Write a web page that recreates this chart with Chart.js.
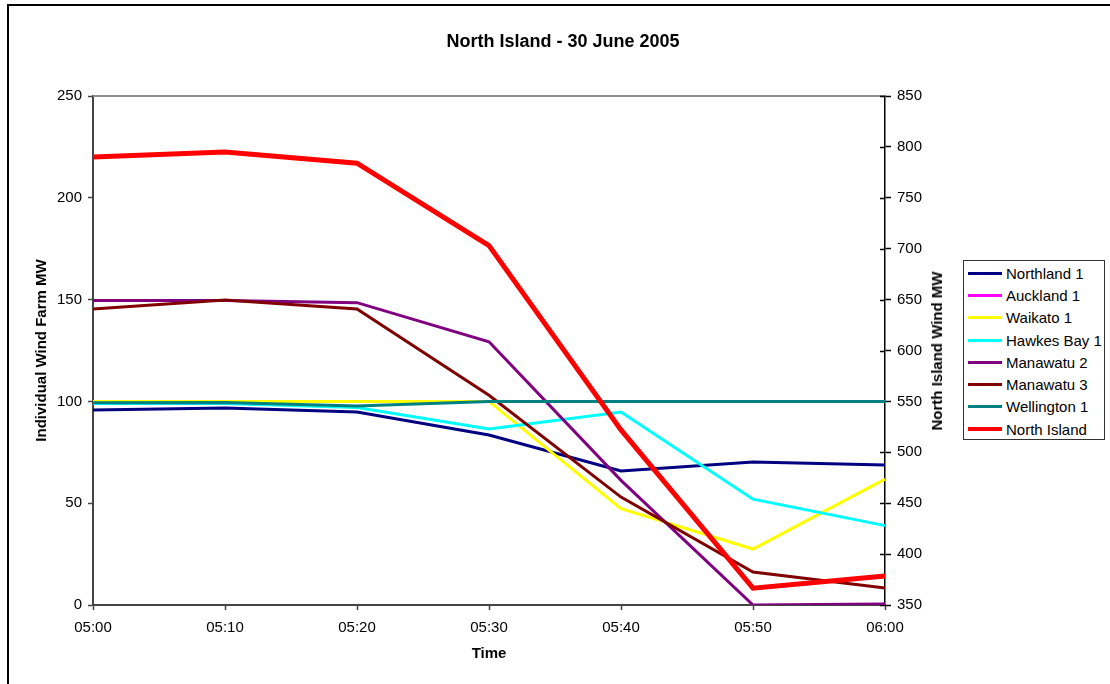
<!DOCTYPE html>
<html>
<head>
<meta charset="utf-8">
<script src="https://cdn.jsdelivr.net/npm/chart.js@4/dist/chart.umd.min.js"></script>
<style>
  html, body { margin: 0; padding: 0; background: #fff; }
  body { width: 1110px; height: 684px; position: relative; overflow: hidden;
         font-family: "Liberation Sans", Arial, sans-serif; }
  #frame-top { position: absolute; left: 7px; top: 4px; width: 1103px; height: 2px; background: #000; }
  #frame-left { position: absolute; left: 7px; top: 4px; width: 2px; height: 680px; background: #000; }
  #wrap { position: absolute; left: 0; top: 0; width: 1110px; height: 684px; }
  #title { position: absolute; left: 363px; top: 30px; width: 400px; text-align: center;
           font-weight: bold; font-size: 18px; line-height: 22px; color: #000; }
  #rtitle { position: absolute; left: 937px; top: 350.5px; transform: translate(-50%, -50%) rotate(-90deg);
            white-space: nowrap; font-weight: bold; font-size: 15px; line-height: 18px; color: #000; }
  #legend { position: absolute; left: 963px; top: 260px; width: 142px; height: 180px;
            border: 1px solid #333; background: #fff; box-sizing: border-box; padding-top: 1px; }
  .item { height: 22.3px; display: flex; align-items: center; font-size: 15px; color: #000; white-space: nowrap; }
  .swatch { width: 34px; margin-left: 4px; margin-right: 4px; }
</style>
</head>
<body>
<div id="wrap"><canvas id="chart" width="1110" height="684"></canvas></div>
<div id="frame-top"></div>
<div id="frame-left"></div>
<div id="title">North Island - 30 June 2005</div>
<div id="rtitle">North Island Wind MW</div>
<div id="legend"></div>
<script>
// Half-hour of trading periods, 10-minute steps
const times = ['05:00', '05:10', '05:20', '05:30', '05:40', '05:50', '06:00'];

// Individual wind farm output (MW), left axis
const northland1  = [95.8, 96.8, 94.8, 83.5, 65.8, 70.2, 68.8];
const auckland1   = [100, 100, 100, 100, 100, 100, 100];
const waikato1    = [100, 100, 100, 100, 47.3, 27.5, 61.8];
const hawkesBay1  = [99, 99, 97, 86.4, 94.8, 52, 39];
const manawatu2   = [149.5, 149.6, 148.5, 129.3, 61.2, 0, 0.5];
const manawatu3   = [145.4, 149.8, 145.4, 103, 53, 16.2, 8.3];
const wellington1 = [99.3, 99.4, 97.7, 100, 100, 100, 100];

// North Island total wind output (MW), right axis
const northIsland = [790, 795, 784, 703, 522, 366.5, 378.5];

const seriesNames  = ['Northland 1', 'Auckland 1', 'Waikato 1', 'Hawkes Bay 1', 'Manawatu 2', 'Manawatu 3', 'Wellington 1', 'North Island'];
const seriesColors = ['#000080', '#FF00FF', '#FFFF00', '#00FFFF', '#800080', '#800000', '#008080', '#FF0000'];
const seriesValues = [northland1, auckland1, waikato1, hawkesBay1, manawatu2, manawatu3, wellington1, northIsland];

const leftTicks  = [0, 50, 100, 150, 200, 250];
const rightTicks = [350, 400, 450, 500, 550, 600, 650, 700, 750, 800, 850];

const FONT = '"Liberation Sans", Arial, sans-serif';

const datasets = seriesNames.map((name, i) => {
  const total = i === seriesNames.length - 1;
  return {
    label: name,
    data: seriesValues[i],
    borderColor: seriesColors[i],
    backgroundColor: seriesColors[i],
    borderWidth: total ? 5 : 3,
    pointRadius: 0,
    pointHoverRadius: 0,
    tension: 0,
    fill: false,
    yAxisID: total ? 'y1' : 'y',
    order: seriesNames.length - i   // later series drawn on top
  };
});

// Legend box on the right
const legendEl = document.getElementById('legend');
seriesNames.forEach((name, i) => {
  const row = document.createElement('div');
  row.className = 'item';
  const sw = document.createElement('div');
  sw.className = 'swatch';
  const h = i === seriesNames.length - 1 ? 4 : 3;
  sw.style.height = h + 'px';
  sw.style.background = seriesColors[i];
  const tx = document.createElement('span');
  tx.textContent = name;
  row.appendChild(sw);
  row.appendChild(tx);
  legendEl.appendChild(row);
});

// Plot frame top edge and right-axis ticks that cross the axis line
const framePlugin = {
  id: 'frame',
  beforeDatasetsDraw(chart) {
    const { ctx, chartArea } = chart;
    ctx.save();
    ctx.strokeStyle = '#8c8c8c';
    ctx.lineWidth = 2;
    ctx.beginPath();
    ctx.moveTo(chartArea.left, chartArea.top);
    ctx.lineTo(chartArea.right, chartArea.top);
    ctx.stroke();
    const y1 = chart.scales.y1;
    ctx.strokeStyle = '#000';
    ctx.lineWidth = 1.5;
    y1.ticks.forEach(t => {
      const py = Math.round(y1.getPixelForValue(t.value)) + 0.5;
      ctx.beginPath();
      ctx.moveTo(chartArea.right - 5, py);
      ctx.lineTo(chartArea.right, py);
      ctx.stroke();
    });
    ctx.restore();
  }
};

new Chart(document.getElementById('chart'), {
  type: 'line',
  data: { labels: times, datasets },
  plugins: [framePlugin],
  options: {
    responsive: false,
    animation: false,
    events: [],
    layout: { padding: { top: 96, left: 0, right: 150, bottom: 0 } },
    plugins: {
      legend: { display: false },
      title: { display: false },
      tooltip: { enabled: false }
    },
    scales: {
      x: {
        type: 'category',
        offset: false,
        afterFit(s) { s.height = 79; },
        grid: { drawOnChartArea: false, drawTicks: true, tickLength: 5, tickColor: '#444', tickWidth: 1.5 },
        border: { color: '#444', width: 2 },
        ticks: { color: '#000', font: { family: FONT, size: 15 }, padding: 9, maxRotation: 0, autoSkip: false },
        title: { display: true, text: 'Time', color: '#000', font: { family: FONT, size: 15, weight: 'bold' }, padding: { top: 0, bottom: 21 } }
      },
      y: {
        position: 'left',
        min: 0, max: 250,
        afterFit(s) { s.width = 93; },
        afterBuildTicks(s) { s.ticks = leftTicks.map(v => ({ value: v })); },
        grid: { drawOnChartArea: false, drawTicks: true, tickLength: 5, tickColor: '#444', tickWidth: 1.5 },
        border: { color: '#444', width: 2 },
        ticks: { color: '#000', font: { family: FONT, size: 15 }, padding: 6 },
        title: { display: true, text: 'Individual Wind Farm MW', color: '#000', font: { family: FONT, size: 15, weight: 'bold' }, padding: { top: 32.5, bottom: 0 } }
      },
      y1: {
        position: 'right',
        min: 350, max: 850,
        afterFit(s) { s.width = 75; },
        afterBuildTicks(s) { s.ticks = rightTicks.map(v => ({ value: v })); },
        grid: { drawOnChartArea: false, drawTicks: true, tickLength: 6, tickColor: '#000', tickWidth: 1.5 },
        border: { color: '#000', width: 1.5 },
        ticks: { color: '#000', font: { family: FONT, size: 15 }, padding: 6 },
        title: { display: false }
      }
    }
  }
});
</script>
</body>
</html>
